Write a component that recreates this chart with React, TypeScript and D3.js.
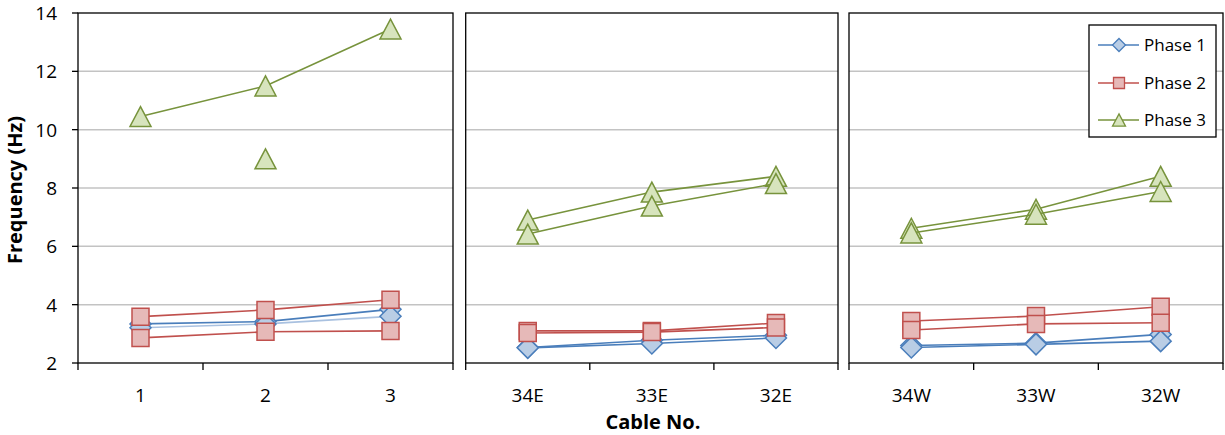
import React from "react";
import * as d3 from "d3";

// ---- data ----
const panel1Cats = ["1", "2", "3"];
const panel2Cats = ["34E", "33E", "32E"];
const panel3Cats = ["34W", "33W", "32W"];
const yTicks = [2, 4, 6, 8, 10, 12, 14];
const seriesNames = ["Phase 1", "Phase 2", "Phase 3"];

// values over the 9 cables (3 per panel); two measurements per phase
const phase1A = [3.34, 3.42, 3.84, 2.53, 2.78, 2.95, 2.6, 2.68, 2.98];
const phase1B = [3.21, 3.34, 3.6, 2.52, 2.67, 2.86, 2.53, 2.64, 2.75];
const phase2A = [3.59, 3.82, 4.17, 3.1, 3.1, 3.37, 3.44, 3.61, 3.93];
const phase2B = [2.86, 3.07, 3.1, 3.03, 3.06, 3.22, 3.13, 3.34, 3.38];
const phase3A = [10.45, 11.5, 13.45, 6.9, 7.86, 8.4, 6.62, 7.27, 8.4];
const phase3B: (number | null)[] = [null, 9.0, null, 6.42, 7.38, 8.15, 6.46, 7.1, 7.88];

const W = 1225;
const H = 435;
const TOP = 13;
const BOTTOM = 363;
const panelRanges: [number, number][] = [
  [78, 453],
  [465.7, 838],
  [849, 1223],
];
const panelCats = [panel1Cats, panel2Cats, panel3Cats];

const FONT = "'Open Sans', 'DejaVu Sans', sans-serif";

const styles = [
  { stroke: "#4a7ebb", fill: "#b9cde5", shape: "diamond" },
  { stroke: "#c0504d", fill: "#e6b9b8", shape: "square" },
  { stroke: "#77933c", fill: "#d7e4bd", shape: "triangle" },
];

function markerPath(shape: string, s: number) {
  if (shape === "diamond") {
    return `M0,${-s}L${s},0L0,${s}L${-s},0Z`;
  }
  if (shape === "square") {
    return `M${-s},${-s}H${s}V${s}H${-s}Z`;
  }
  // triangle
  const h = s * 1.9;
  return `M0,${-h / 2}L${s},${h / 2}L${-s},${h / 2}Z`;
}

export default function App() {
  const y = d3.scaleLinear().domain([2, 14]).range([BOTTOM, TOP]);
  const xScales = panelRanges.map((r, i) =>
    d3.scaleBand<string>().domain(panelCats[i]).range(r).padding(0)
  );

  const allSeries = [
    { data: phase1A as (number | null)[], st: 0, lineColor: ["#4a7ebb", "#4a7ebb", "#4a7ebb"] },
    { data: phase1B as (number | null)[], st: 0, lineColor: ["#a9c1e0", "#4a7ebb", "#4a7ebb"] },
    { data: phase2A as (number | null)[], st: 1, lineColor: ["#c0504d", "#c0504d", "#c0504d"] },
    { data: phase2B as (number | null)[], st: 1, lineColor: ["#c0504d", "#c0504d", "#c0504d"] },
    { data: phase3A as (number | null)[], st: 2, lineColor: ["#77933c", "#77933c", "#77933c"] },
    { data: phase3B, st: 2, lineColor: ["#77933c", "#77933c", "#77933c"] },
  ];

  const markerSize = [10.5, 8.5, 10.5];

  const line = d3
    .line<{ x: number; v: number | null }>()
    .defined((d) => d.v !== null)
    .x((d) => d.x)
    .y((d) => y(d.v as number));

  const panelEls = panelRanges.map((r, pi) => {
    const xs = xScales[pi];
    const cats = panelCats[pi];
    const bw = xs.bandwidth();
    return (
      <g key={"p" + pi}>
        {yTicks
          .filter((t) => t !== 2 && t !== 14)
          .map((t) => (
            <line
              key={"g" + t}
              x1={r[0]}
              x2={r[1]}
              y1={y(t)}
              y2={y(t)}
              stroke="#c3c3c3"
              strokeWidth={1.5}
            />
          ))}
        <rect
          x={r[0]}
          y={TOP}
          width={r[1] - r[0]}
          height={BOTTOM - TOP}
          fill="none"
          stroke="#000"
          strokeWidth={1.3}
        />
        {[...cats.map((c) => xs(c) as number), r[1]].map((tx, i) => (
          <line key={"xt" + i} x1={tx} x2={tx} y1={BOTTOM} y2={BOTTOM + 7} stroke="#000" strokeWidth={1.3} />
        ))}
        {cats.map((c) => (
          <text
            key={"xl" + c}
            x={(xs(c) as number) + bw / 2}
            y={402}
            textAnchor="middle"
            fontFamily={FONT}
            fontSize={19}
            fill="#000"
          >
            {c}
          </text>
        ))}
      </g>
    );
  });

  const seriesEls: React.ReactNode[] = [];
  allSeries.forEach((s, si) => {
    const st = styles[s.st];
    panelRanges.forEach((_, pi) => {
      const xs = xScales[pi];
      const cats = panelCats[pi];
      const pts = cats.map((c, ci) => ({
        x: (xs(c) as number) + xs.bandwidth() / 2,
        v: s.data[pi * 3 + ci],
      }));
      seriesEls.push(
        <path
          key={`l${si}-${pi}`}
          d={line(pts) || ""}
          fill="none"
          stroke={s.lineColor[pi]}
          strokeWidth={1.6}
        />
      );
      pts.forEach((p, k) => {
        if (p.v === null) return;
        seriesEls.push(
          <path
            key={`m${si}-${pi}-${k}`}
            d={markerPath(st.shape, markerSize[s.st])}
            transform={`translate(${p.x},${y(p.v)})`}
            fill={st.fill}
            stroke={st.stroke}
            strokeWidth={1.5}
          />
        );
      });
    });
  });

  const lgX = 1089;
  const lgY = 25;
  const legendRows = [45, 83, 120];

  return (
    <svg
      width={W}
      height={H}
      style={{ position: "absolute", left: 0, top: 0, background: "#fff" }}
    >
      <rect x={0} y={0} width={W} height={H} fill="#fff" />
      {panelEls}
      {yTicks.map((t) => (
        <g key={"yt" + t}>
          <line x1={72} x2={78} y1={y(t)} y2={y(t)} stroke="#000" strokeWidth={1.3} />
          <text
            x={57}
            y={y(t)}
            dy="0.36em"
            textAnchor="end"
            fontFamily={FONT}
            fontSize={19}
            fill="#000"
          >
            {t}
          </text>
        </g>
      ))}
      {seriesEls}
      <text
        transform={`translate(22,${(TOP + BOTTOM) / 2 + 2}) rotate(-90)`}
        textAnchor="middle"
        fontFamily={FONT}
        fontSize={20}
        fontWeight="bold"
        fill="#000"
      >
        Frequency (Hz)
      </text>
      <text
        x={653}
        y={429}
        textAnchor="middle"
        fontFamily={FONT}
        fontSize={20}
        fontWeight="bold"
        fill="#000"
      >
        Cable No.
      </text>
      <rect x={lgX} y={lgY} width={127} height={112} fill="#fff" stroke="#000" strokeWidth={1.3} />
      {seriesNames.map((n, i) => (
        <g key={"lg" + n}>
          <line x1={1098} x2={1139} y1={legendRows[i]} y2={legendRows[i]} stroke={styles[i].stroke} strokeWidth={1.6} />
          <path
            d={markerPath(styles[i].shape, i === 1 ? 5.5 : 6.5)}
            transform={`translate(1119,${legendRows[i]})`}
            fill={styles[i].fill}
            stroke={styles[i].stroke}
            strokeWidth={1.3}
          />
          <text
            x={1144}
            y={legendRows[i]}
            dy="0.36em"
            fontFamily={FONT}
            fontSize={17}
            fill="#000"
          >
            {n}
          </text>
        </g>
      ))}
    </svg>
  );
}
